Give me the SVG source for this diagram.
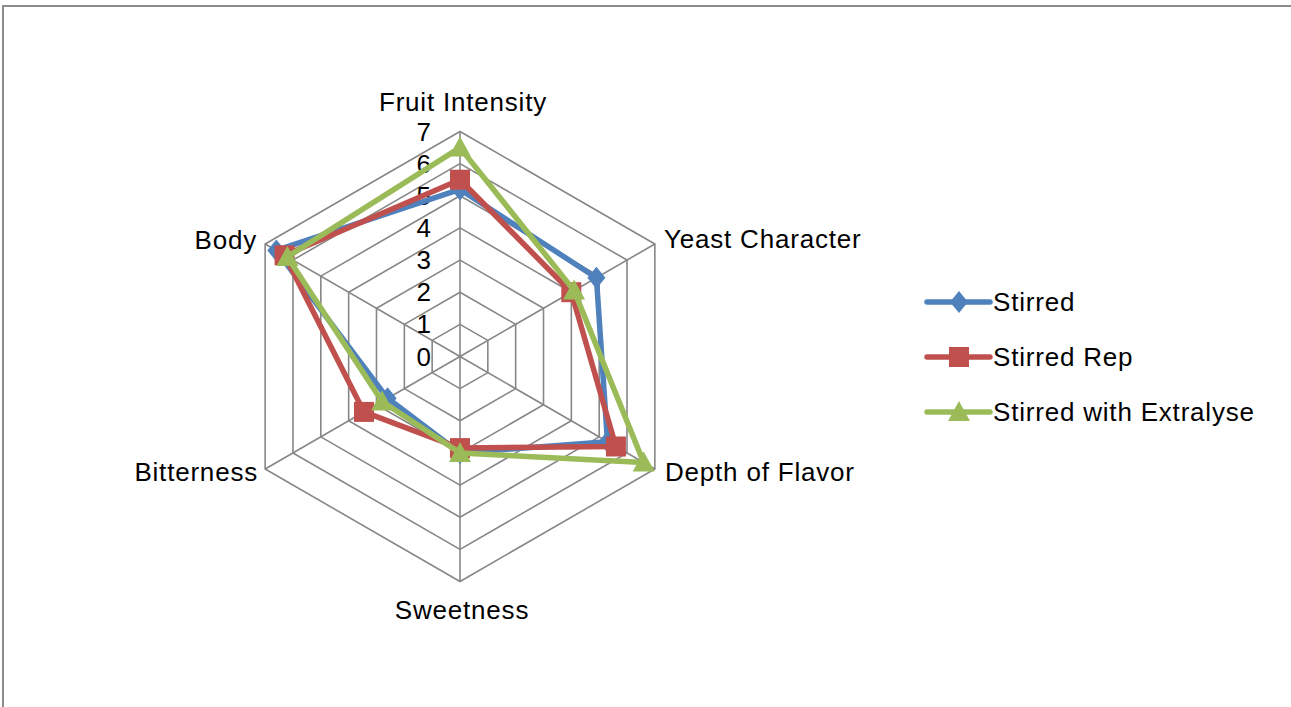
<svg xmlns="http://www.w3.org/2000/svg" xmlns:xlink="http://www.w3.org/1999/xlink" width="1291" height="707" viewBox="0 0 1291 707">
<style>
  .grid { fill: none; stroke: #878787; stroke-width: 1.6; }
  .lbl { font-family: "Liberation Sans", Arial, sans-serif; font-size: 26px; letter-spacing: 0.8px; fill: #000; }
  .tick { font-family: "Liberation Sans", Arial, sans-serif; font-size: 26px; fill: #000; }
  .s1 { fill: none; stroke: #4F81BD; stroke-width: 5.5; stroke-linejoin: round; }
  .s2 { fill: none; stroke: #C0504D; stroke-width: 5.5; stroke-linejoin: round; }
  .s3 { fill: none; stroke: #9BBB59; stroke-width: 5.5; stroke-linejoin: round; }
  .m1 { fill: #4F81BD; }
  .m2 { fill: #C0504D; }
  .m3 { fill: #9BBB59; }
</style>
<defs>
  <polygon id="dia" class="m1" points="0,-11 9,0 0,11 -9,0"/>
  <rect id="sq" class="m2" x="-10" y="-10" width="20" height="20"/>
  <polygon id="tri" class="m3" points="0,-11 11,9 -11,9"/>
</defs>
<rect x="0" y="0" width="1291" height="707" fill="#fff"/>
<path d="M3,707 V6 H1291" fill="none" stroke="#8c8c8c" stroke-width="2"/>

<g id="grid">
  <polygon class="grid" points="460,324.36 487.83,340.43 487.83,372.57 460,388.64 432.17,372.57 432.17,340.43"/>
  <polygon class="grid" points="460,292.21 515.67,324.36 515.67,388.64 460,420.79 404.33,388.64 404.33,324.36"/>
  <polygon class="grid" points="460,260.07 543.51,308.29 543.51,404.71 460,452.93 376.49,404.71 376.49,308.29"/>
  <polygon class="grid" points="460,227.93 571.34,292.21 571.34,420.79 460,485.07 348.66,420.79 348.66,292.21"/>
  <polygon class="grid" points="460,195.79 599.18,276.14 599.18,436.86 460,517.21 320.82,436.86 320.82,276.14"/>
  <polygon class="grid" points="460,163.64 627.02,260.07 627.02,452.93 460,549.36 292.98,452.93 292.98,260.07"/>
  <polygon class="grid" points="460,131.5 654.86,244 654.86,469 460,581.5 265.14,469 265.14,244"/>
  <path class="grid" d="M460,356.5 V131.5 M460,356.5 L654.86,244 M460,356.5 L654.86,469 M460,356.5 V581.5 M460,356.5 L265.14,469 M460,356.5 L265.14,244"/>
</g>

<g id="ticks">
  <text class="tick" x="431" y="365.5" text-anchor="end">0</text>
  <text class="tick" x="431" y="333.4" text-anchor="end">1</text>
  <text class="tick" x="431" y="301.2" text-anchor="end">2</text>
  <text class="tick" x="431" y="269.1" text-anchor="end">3</text>
  <text class="tick" x="431" y="236.9" text-anchor="end">4</text>
  <text class="tick" x="431" y="204.8" text-anchor="end">5</text>
  <text class="tick" x="431" y="172.6" text-anchor="end">6</text>
  <text class="tick" x="431" y="140.5" text-anchor="end">7</text>
</g>

<g id="axis-labels">
  <text id="lbl-fruit" class="lbl" x="463" y="111" text-anchor="middle">Fruit Intensity</text>
  <text id="lbl-yeast" class="lbl" x="664" y="248">Yeast Character</text>
  <text id="lbl-depth" class="lbl" x="665" y="481">Depth of Flavor</text>
  <text id="lbl-sweet" class="lbl" x="462" y="619" text-anchor="middle">Sweetness</text>
  <text id="lbl-bitter" class="lbl" x="258" y="481" text-anchor="end">Bitterness</text>
  <text id="lbl-body" class="lbl" x="257" y="249" text-anchor="end">Body</text>
</g>

<g id="series-stirred">
  <polygon class="s1" points="460,189.4 596.4,277.75 607.5,441.7 460,452.9 387.6,398.3 276.3,250.4"/>
  <use xlink:href="#dia" x="460" y="189.4"/>
  <use xlink:href="#dia" x="596.4" y="277.75"/>
  <use xlink:href="#dia" x="607.5" y="441.7"/>
  <use xlink:href="#dia" x="460" y="452.9"/>
  <use xlink:href="#dia" x="387.6" y="398.3"/>
  <use xlink:href="#dia" x="276.3" y="250.4"/>
</g>

<g id="series-stirred-rep">
  <polygon class="s2" points="460,179.7 571.3,292.2 615.9,446.5 460,448.1 364,411.9 284.6,255.3"/>
  <use xlink:href="#sq" x="460" y="179.7"/>
  <use xlink:href="#sq" x="571.3" y="292.2"/>
  <use xlink:href="#sq" x="615.9" y="446.5"/>
  <use xlink:href="#sq" x="460" y="448.1"/>
  <use xlink:href="#sq" x="364" y="411.9"/>
  <use xlink:href="#sq" x="284.6" y="255.3"/>
</g>

<g id="series-extralyse">
  <polygon class="s3" points="460,147.6 574.1,290.6 643.7,462.6 460,452.9 382.1,401.5 287.4,256.9"/>
  <use xlink:href="#tri" x="460" y="147.6"/>
  <use xlink:href="#tri" x="574.1" y="290.6"/>
  <use xlink:href="#tri" x="643.7" y="462.6"/>
  <use xlink:href="#tri" x="460" y="452.9"/>
  <use xlink:href="#tri" x="382.1" y="401.5"/>
  <use xlink:href="#tri" x="287.4" y="256.9"/>
</g>

<g id="legend">
  <g id="leg-stirred">
    <line class="s1" x1="927" y1="302" x2="990" y2="302" stroke-width="6" stroke-linecap="round"/>
    <use xlink:href="#dia" x="959" y="302"/>
    <text class="lbl" x="993" y="311">Stirred</text>
  </g>
  <g id="leg-rep">
    <line class="s2" x1="927" y1="357" x2="990" y2="357" stroke-width="6" stroke-linecap="round"/>
    <use xlink:href="#sq" x="959" y="357"/>
    <text class="lbl" x="993" y="366">Stirred Rep</text>
  </g>
  <g id="leg-extralyse">
    <line class="s3" x1="927" y1="412" x2="990" y2="412" stroke-width="6" stroke-linecap="round"/>
    <use xlink:href="#tri" x="959" y="412"/>
    <text class="lbl" x="993" y="421">Stirred with Extralyse</text>
  </g>
</g>
</svg>
